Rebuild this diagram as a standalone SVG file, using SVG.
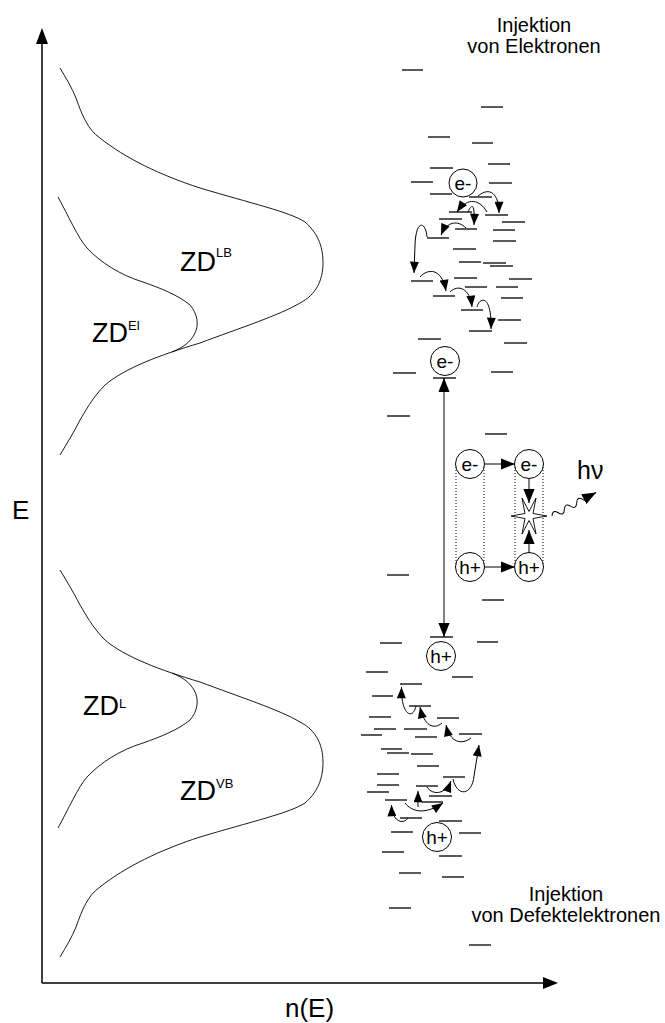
<svg xmlns="http://www.w3.org/2000/svg" width="665" height="1023" viewBox="0 0 665 1023">
<style>
.t{font-family:"Liberation Sans",Arial,sans-serif;fill:#000}
.lv{stroke:#000;stroke-width:1.3}
.cv{fill:none;stroke:#000;stroke-width:0.9}
.ar{fill:none;stroke:#000;stroke-width:1;marker-end:url(#a)}
.c{fill:#fff;stroke:#000;stroke-width:1}
.ct{font-family:"Liberation Sans",Arial,sans-serif;font-size:19px;text-anchor:middle}
.dot{stroke:#000;stroke-width:1;stroke-dasharray:1 2;fill:none}
</style>
<defs>
<marker id="a" viewBox="0 0 10 8" refX="10" refY="4" markerWidth="12" markerHeight="9" markerUnits="userSpaceOnUse" orient="auto"><path d="M0,0 L10,4 L0,8 z"/></marker>
<marker id="b" viewBox="0 0 10 8" refX="10" refY="4" markerWidth="14" markerHeight="12" markerUnits="userSpaceOnUse" orient="auto-start-reverse"><path d="M0,0 L10,4 L0,8 z"/></marker>
</defs>

<g id="axes">
<line x1="42" y1="983" x2="42" y2="40" stroke="#000" stroke-width="1.5"/>
<polygon points="42,28 36,44 48,44"/>
<line x1="42" y1="983" x2="546" y2="983" stroke="#000" stroke-width="1.5"/>
<polygon points="558,983 543,977 543,989"/>
<text class="t" x="12" y="519" font-size="26">E</text>
<text class="t" x="285" y="1017" font-size="26">n(E)</text>
</g>

<g id="dos-upper">
<path class="cv" d="M60,68 C66,78 72,88 76,98 C82,115 88,130 100,138 C125,158 160,175 200,188 C250,203 290,212 305,222 C320,235 323,250 323,263 C323,280 316,295 300,303 C280,315 240,328 200,343 C160,355 125,368 105,385 C92,398 85,412 80,420 C74,432 66,445 60,455"/>
<path class="cv" d="M58,197 C68,215 78,238 87,248 C100,262 120,275 143,282 C160,288 178,295 190,305 C197,313 200,325 194,335 C190,342 184,347 172,352"/>
<text class="t" x="180" y="271" font-size="27">ZD</text><text class="t" x="216" y="257" font-size="13">LB</text>
<text class="t" x="92" y="342" font-size="27">ZD</text><text class="t" x="128" y="330" font-size="13">El</text>
</g>

<g id="dos-lower">
<g transform="matrix(1 0 0 -1 0 1025)">
<path class="cv" d="M60,68 C66,78 72,88 76,98 C82,115 88,130 100,138 C125,158 160,175 200,188 C250,203 290,212 305,222 C320,235 323,250 323,263 C323,280 316,295 300,303 C280,315 240,328 200,343 C160,355 125,368 105,385 C92,398 85,412 80,420 C74,432 66,445 60,455"/>
<path class="cv" d="M58,197 C68,215 78,238 87,248 C100,262 120,275 143,282 C160,288 178,295 190,305 C197,313 200,325 194,335 C190,342 184,347 172,352"/>
</g>
<text class="t" x="83" y="715" font-size="27">ZD</text><text class="t" x="119" y="708" font-size="13">L</text>
<text class="t" x="180" y="800" font-size="27">ZD</text><text class="t" x="216" y="788" font-size="13">VB</text>
</g>

<g id="levels">
<line class="lv" x1="402" y1="70" x2="423" y2="70"/>
<line class="lv" x1="481" y1="107" x2="503" y2="107"/>
<line class="lv" x1="428" y1="137" x2="450" y2="137"/>
<line class="lv" x1="472" y1="143" x2="493" y2="143"/>
<line class="lv" x1="430" y1="168" x2="453" y2="168"/>
<line class="lv" x1="488" y1="164" x2="510" y2="164"/>
<line class="lv" x1="411" y1="182" x2="433" y2="182"/>
<line class="lv" x1="489" y1="183" x2="512" y2="183"/>
<line class="lv" x1="430" y1="194" x2="452" y2="194"/>
<line class="lv" x1="469" y1="197" x2="492" y2="197"/>
<line class="lv" x1="449" y1="212" x2="472" y2="212"/>
<line class="lv" x1="485" y1="215" x2="508" y2="215"/>
<line class="lv" x1="439" y1="219" x2="462" y2="219"/>
<line class="lv" x1="502" y1="222" x2="525" y2="222"/>
<line class="lv" x1="455" y1="229" x2="477" y2="229"/>
<line class="lv" x1="493" y1="230" x2="515" y2="230"/>
<line class="lv" x1="427" y1="238" x2="449" y2="238"/>
<line class="lv" x1="493" y1="241" x2="516" y2="241"/>
<line class="lv" x1="453" y1="249" x2="476" y2="249"/>
<line class="lv" x1="459" y1="262" x2="481" y2="262"/>
<line class="lv" x1="483" y1="263" x2="506" y2="263"/>
<line class="lv" x1="490" y1="266" x2="513" y2="266"/>
<line class="lv" x1="411" y1="281" x2="433" y2="281"/>
<line class="lv" x1="454" y1="278" x2="477" y2="278"/>
<line class="lv" x1="509" y1="279" x2="532" y2="279"/>
<line class="lv" x1="465" y1="287" x2="487" y2="287"/>
<line class="lv" x1="496" y1="287" x2="518" y2="287"/>
<line class="lv" x1="433" y1="296" x2="455" y2="296"/>
<line class="lv" x1="501" y1="298" x2="523" y2="298"/>
<line class="lv" x1="461" y1="310" x2="483" y2="310"/>
<line class="lv" x1="498" y1="320" x2="521" y2="320"/>
<line class="lv" x1="469" y1="331" x2="492" y2="331"/>
<line class="lv" x1="418" y1="339" x2="441" y2="339"/>
<line class="lv" x1="504" y1="343" x2="527" y2="343"/>
<line class="lv" x1="393" y1="373" x2="416" y2="373"/>
<line class="lv" x1="491" y1="372" x2="513" y2="372"/>
<line class="lv" x1="433" y1="378" x2="456" y2="378"/>
<line class="lv" x1="387" y1="416" x2="410" y2="416"/>
<line class="lv" x1="485" y1="434" x2="507" y2="434"/>
<line class="lv" x1="387" y1="575" x2="409" y2="575"/>
<line class="lv" x1="482" y1="600" x2="504" y2="600"/>
<line class="lv" x1="430" y1="637" x2="453" y2="637"/>
<line class="lv" x1="380" y1="643" x2="402" y2="643"/>
<line class="lv" x1="477" y1="642" x2="498" y2="642"/>
<line class="lv" x1="366" y1="672" x2="388" y2="672"/>
<line class="lv" x1="452" y1="677" x2="473" y2="677"/>
<line class="lv" x1="400" y1="684" x2="422" y2="684"/>
<line class="lv" x1="372" y1="696" x2="393" y2="696"/>
<line class="lv" x1="409" y1="706" x2="431" y2="706"/>
<line class="lv" x1="369" y1="717" x2="391" y2="717"/>
<line class="lv" x1="437" y1="718" x2="459" y2="718"/>
<line class="lv" x1="374" y1="729" x2="396" y2="729"/>
<line class="lv" x1="404" y1="729" x2="427" y2="729"/>
<line class="lv" x1="361" y1="735" x2="382" y2="735"/>
<line class="lv" x1="415" y1="737" x2="437" y2="737"/>
<line class="lv" x1="459" y1="734" x2="482" y2="734"/>
<line class="lv" x1="381" y1="749" x2="402" y2="749"/>
<line class="lv" x1="387" y1="753" x2="409" y2="753"/>
<line class="lv" x1="411" y1="754" x2="433" y2="754"/>
<line class="lv" x1="417" y1="766" x2="439" y2="766"/>
<line class="lv" x1="377" y1="774" x2="399" y2="774"/>
<line class="lv" x1="443" y1="777" x2="465" y2="777"/>
<line class="lv" x1="377" y1="785" x2="399" y2="785"/>
<line class="lv" x1="416" y1="786" x2="438" y2="786"/>
<line class="lv" x1="367" y1="792" x2="389" y2="792"/>
<line class="lv" x1="429" y1="796" x2="452" y2="796"/>
<line class="lv" x1="385" y1="800" x2="407" y2="800"/>
<line class="lv" x1="422" y1="802" x2="443" y2="802"/>
<line class="lv" x1="400" y1="818" x2="422" y2="818"/>
<line class="lv" x1="439" y1="821" x2="462" y2="821"/>
<line class="lv" x1="391" y1="832" x2="413" y2="832"/>
<line class="lv" x1="459" y1="833" x2="481" y2="833"/>
<line class="lv" x1="382" y1="852" x2="404" y2="852"/>
<line class="lv" x1="439" y1="856" x2="462" y2="856"/>
<line class="lv" x1="399" y1="873" x2="421" y2="873"/>
<line class="lv" x1="442" y1="877" x2="464" y2="877"/>
<line class="lv" x1="389" y1="908" x2="411" y2="908"/>
<line class="lv" x1="469" y1="945" x2="491" y2="945"/>
</g>

<g id="connectors">
<path class="ar" d="M478,196 C490,186 499,194 499,213"/>
<path class="ar" d="M487,212 C480,200 468,196 457,212"/>
<path class="ar" d="M468,212 C472,203 475,203 474,225"/>
<path class="ar" d="M466,228 C458,220 447,221 441,235"/>
<path class="ar" d="M427,237 C426,222 416,218 415,245 L414,273"/>
<path class="ar" d="M420,277 C428,268 442,268 446,291"/>
<path class="ar" d="M450,292 C458,284 470,288 472,307"/>
<path class="ar" d="M477,307 C480,296 492,295 491,329"/>
<path class="ar" d="M416,706 C413,720 401,716 401.5,687"/>
<path class="ar" d="M442,723 C434,730 424,726 420,707"/>
<path class="ar" d="M471,738 C462,745 450,743 446,725"/>
<path class="ar" d="M453,779 C457,797 472,796 474,776 L479,745"/>
<path class="ar" d="M427,787 C433,796 446,794 451,781"/>
<path class="ar" d="M418,807 L418,791"/>
<path class="ar" d="M405,803 C412,812 425,815 443,803"/>
<path class="ar" d="M408,818 C402,826 392,820 391.5,805"/>
<line x1="444" y1="378" x2="444" y2="637" stroke="#000" stroke-width="1" marker-start="url(#b)" marker-end="url(#b)"/>
<line x1="484" y1="464" x2="515" y2="464" stroke="#000" stroke-width="1" marker-end="url(#b)"/>
<line x1="484" y1="567" x2="515" y2="567" stroke="#000" stroke-width="1" marker-end="url(#b)"/>
<line x1="529" y1="478" x2="529" y2="503" stroke="#000" stroke-width="1" marker-end="url(#b)"/>
<line x1="529" y1="553" x2="529" y2="530" stroke="#000" stroke-width="1" marker-end="url(#b)"/>
<path class="dot" d="M456,464 V567 M484,464 V567 M515,464 V567 M543,464 V567"/>
<g transform="translate(552,516) rotate(-28)">
<path d="M0,0 q3.5,-6 7,0 t7,0 t7,0 t7,0 t7,0 t7,0 l8,0" fill="none" stroke="#000" stroke-width="1" marker-end="url(#b)"/>
</g>
</g>

<g id="star"><polygon points="547,516 533,513.5 536,498 529,511.5 522,498 525,513.5 511,516 525,518.5 522,534 529,520.5 536,534 533,518.5" fill="#fff" stroke="#000" stroke-width="0.9"/></g>

<g id="e-top"><circle class="c" cx="463" cy="183" r="14"/><text class="ct" x="463" y="189.5">e-</text></g>
<g id="e-mid"><circle class="c" cx="445" cy="361" r="14.5"/><text class="ct" x="445" y="367.5">e-</text></g>
<g id="e-left"><circle class="c" cx="470" cy="464" r="14.5"/><text class="ct" x="470" y="470.5">e-</text></g>
<g id="e-right"><circle class="c" cx="529" cy="464" r="14.5"/><text class="ct" x="529" y="470.5">e-</text></g>
<g id="h-left"><circle class="c" cx="470" cy="567" r="14.5"/><text class="ct" x="470" y="573.5">h+</text></g>
<g id="h-right"><circle class="c" cx="529" cy="567" r="14.5"/><text class="ct" x="529" y="573.5">h+</text></g>
<g id="h-mid"><circle class="c" cx="441" cy="656" r="14.5"/><text class="ct" x="441" y="662.5">h+</text></g>
<g id="h-bottom"><circle class="c" cx="437" cy="837" r="14.5"/><text class="ct" x="437" y="843.5">h+</text></g>

<g id="labels">
<text class="t" x="534" y="32" font-size="20" text-anchor="middle">Injektion</text>
<text class="t" x="534" y="53" font-size="20" text-anchor="middle">von Elektronen</text>
<text class="t" x="566" y="901" font-size="20" text-anchor="middle">Injektion</text>
<text class="t" x="566" y="922" font-size="20" text-anchor="middle">von Defektelektronen</text>
<text class="t" x="577" y="479" font-size="25">hν</text>
</g>
</svg>
